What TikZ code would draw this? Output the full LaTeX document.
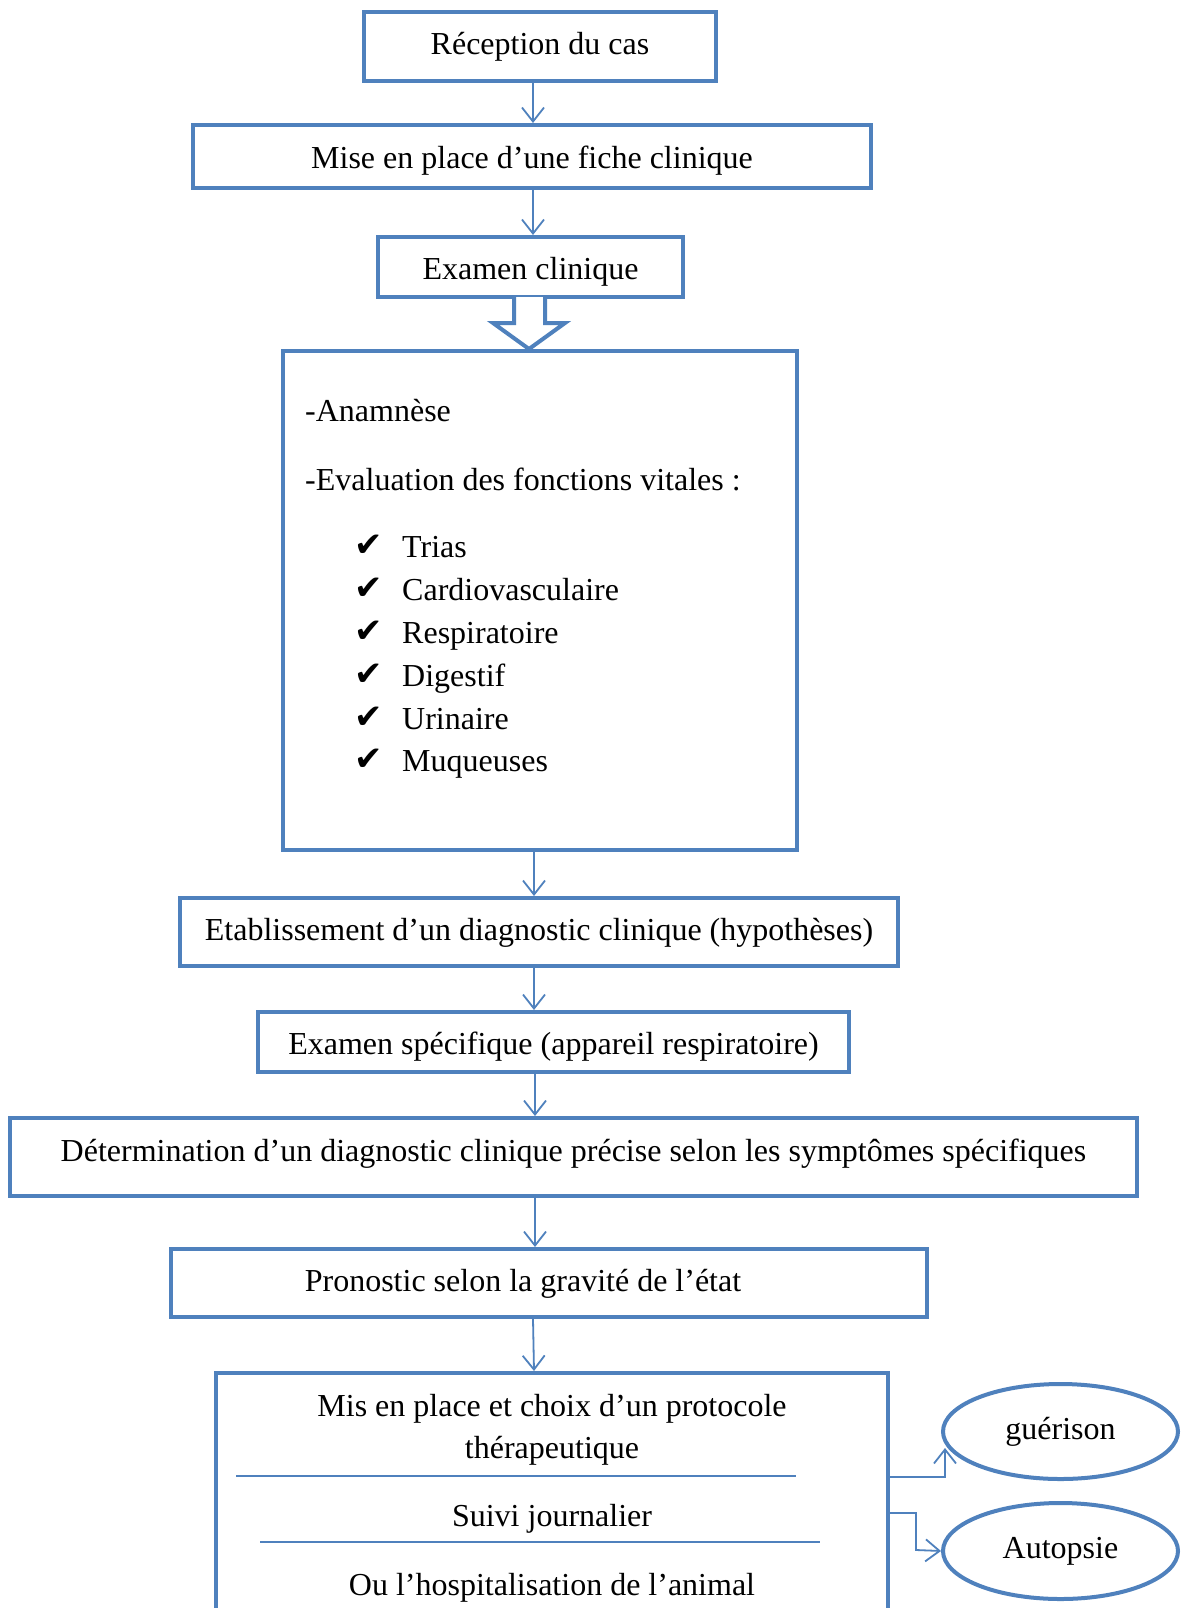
\documentclass[tikz,border=0pt]{standalone}
\usepackage{fontspec}
\setmainfont{Liberation Serif}
\newfontfamily\dejavu{DejaVu Sans}
\usetikzlibrary{arrows.meta,shapes.geometric}
\definecolor{bl}{RGB}{79,129,189}
\begin{document}
\begin{tikzpicture}[x=1pt,y=-1pt,
  box/.style={draw=bl,line width=4pt,fill=white,inner sep=0pt},
  ell/.style={ellipse,draw=bl,line width=4pt,inner sep=0pt,font=\fontsize{32}{42}\selectfont},
  txt/.style={inner sep=0pt,font=\fontsize{32}{42}\selectfont},
  arr/.style={draw=bl,line width=1.8pt,-{Straight Barb[length=14pt,width=22pt,line width=1.8pt]}},
  sep/.style={draw=bl,line width=1.8pt}]
\clip (0,0) rectangle (1181,1608);
\fill[white] (0,0) rectangle (1181,1608);
% boxes
\node[box,minimum width=352pt,minimum height=69pt] (b1) at (540,46.5) {};
\node[txt] (t1) at (540,46.5) {Réception du cas};
\node[box,minimum width=678pt,minimum height=63pt] (b2) at (532,156.5) {};
\node[txt] (t2) at (532,160.5) {Mise en place d’une fiche clinique};
\node[box,minimum width=305pt,minimum height=60pt] (b3) at (530.5,267) {};
\node[txt] (t3) at (530.5,272) {Examen clinique};
\node[box,minimum width=514pt,minimum height=499pt] (b4) at (540,600.5) {};
\node[box,minimum width=718pt,minimum height=68pt] (b5) at (539,932) {};
\node[txt] (t5) at (539,933) {Etablissement d’un diagnostic clinique (hypothèses)};
\node[box,minimum width=591pt,minimum height=60pt] (b6) at (553.5,1042) {};
\node[txt] (t6) at (553.5,1047) {Examen spécifique (appareil respiratoire)};
\node[box,minimum width=1127pt,minimum height=78pt] (b7) at (573.5,1157) {};
\node[txt] (t7) at (573.5,1154) {Détermination d’un diagnostic clinique précise selon les symptômes spécifiques};
\node[box,minimum width=756pt,minimum height=68pt] (b8) at (549,1283) {};
\node[txt] (t8) at (523,1284) {Pronostic selon la gravité de l’état};
\node[box,minimum width=672pt,minimum height=267pt] (b9) at (552,1506.5) {};
% big box content
\node[txt,anchor=base west] (a1) at (305,421) {-Anamnèse};
\node[txt,anchor=base west] (a2) at (305,490) {-Evaluation des fonctions vitales :};
\foreach \y/\t [count=\i] in {546/Trias,589/Cardiovasculaire,632/Respiratoire,675/Digestif,718/Urinaire,760/Muqueuses}{
  \node[txt,anchor=base west,font=\fontsize{34}{40}\dejavu] (c\i) at (354,\y+10) {✔};
  \node[txt,anchor=base west] (i\i) at (402,\y+11) {\t};
}
% bottom box content
\node[txt,align=center] (p1) at (552,1429.5) {Mis en place et choix d’un protocole\\thérapeutique};
\coordinate (l1a) at (236,1476); \coordinate (l1b) at (796,1476);
\draw[sep] (l1a) -- (l1b);
\node[txt] (p2) at (552,1519) {Suivi journalier};
\coordinate (l2a) at (260,1542); \coordinate (l2b) at (820,1542);
\draw[sep] (l2a) -- (l2b);
\node[txt] (p3) at (552,1588) {Ou l’hospitalisation de l’animal};
% ellipses
\node[ell,minimum width=235pt,minimum height=95pt] (e1) at (1060.5,1431.5) {guérison};
\node[ell,minimum width=235pt,minimum height=96pt] (e2) at (1060.5,1551) {Autopsie};
% hollow arrow
\coordinate (h0) at (529,349);
\draw[bl,line width=4pt,line join=miter,fill=white] (514,297) -- (514,323) -- (493,323) -- (h0) -- (565,323) -- (545,323) -- (545,297);
% small arrows
\draw[arr] (b1.south -| 533,0) -- (b2.north -| 533,0);
\draw[arr] (b2.south -| 533,0) -- (b3.north -| 533,0);
\draw[arr] (b4.south -| 534,0) -- (b5.north -| 534,0);
\draw[arr] (b5.south -| 534,0) -- (b6.north -| 534,0);
\draw[arr] (b6.south -| 535,0) -- (b7.north -| 535,0);
\draw[arr] (b7.south -| 535,0) -- (b8.north -| 535,0);
\draw[arr] (b8.south -| 533,0) -- (b9.north -| 534,0);
% outcome connectors
\coordinate (g1) at (945,1448);
\draw[arr] (b9.east |- 0,1477) -| (g1);
\coordinate (k1) at (916,1550);
\draw[arr] (b9.east |- 0,1513) -| (k1) -- (e2.west);
\end{tikzpicture}
\end{document}
